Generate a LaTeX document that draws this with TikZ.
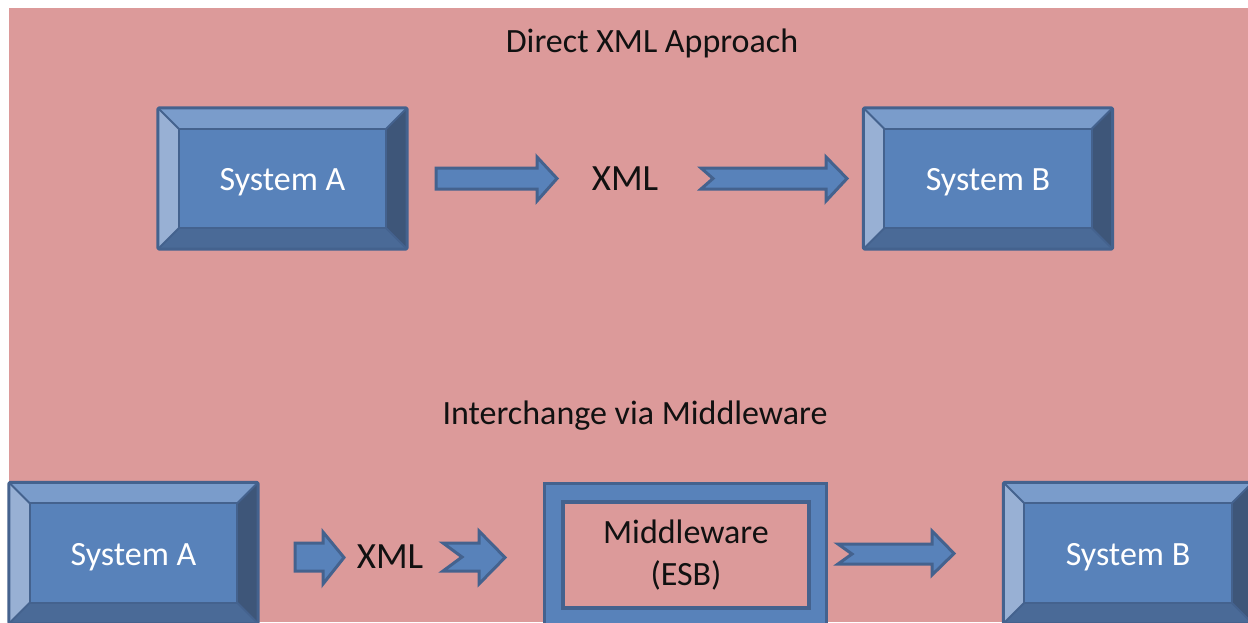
\documentclass[tikz,border=0pt]{standalone}
\usepackage{fontspec}
\setmainfont{Carlito}
\usetikzlibrary{calc}
\definecolor{bgpink}{HTML}{DC9A9A}
\definecolor{boxblue}{HTML}{5882BA}
\definecolor{bordblue}{HTML}{44628E}
\definecolor{toplt}{HTML}{7A9CCB}
\definecolor{leftlt}{HTML}{98B0D4}
\definecolor{rightdk}{HTML}{3E5679}
\definecolor{botdk}{HTML}{4A6A97}
\definecolor{txtblack}{HTML}{111111}
\tikzset{
  sysbox/.style={rectangle, fill=boxblue, minimum width=249pt, minimum height=141pt, inner sep=0pt, text=white, font=\fontsize{34}{40}\selectfont},
  bev/.style={draw=bordblue, line width=2pt, line join=round},
  blockarrow/.style={fill=boxblue, draw=bordblue, line width=3pt, line join=miter},
  titletext/.style={text=txtblack, font=\fontsize{34}{40}\selectfont},
  xmllabel/.style={text=txtblack, font=\fontsize{37}{44}\selectfont},
}
\newcommand{\bevbox}[4]{%
  \node[sysbox] (#1) at (#2,#3) {\raisebox{-12pt}[0pt][0pt]{#4}};
  \fill[toplt] (#1.north west) -- (#1.north east) -- ($(#1.north east)+(-21,21)$) -- ($(#1.north west)+(21,21)$) -- cycle;
  \fill[leftlt] (#1.north west) -- ($(#1.north west)+(21,21)$) -- ($(#1.south west)+(21,-21)$) -- (#1.south west) -- cycle;
  \fill[rightdk] (#1.north east) -- (#1.south east) -- ($(#1.south east)+(-21,-21)$) -- ($(#1.north east)+(-21,21)$) -- cycle;
  \fill[botdk] (#1.south west) -- (#1.south east) -- ($(#1.south east)+(-21,-21)$) -- ($(#1.south west)+(21,-21)$) -- cycle;
  \draw[bev] ($(#1.north west)+(21,21)$) rectangle ($(#1.south east)+(-21,-21)$);
  \draw[bev] (#1.north west) -- ($(#1.north west)+(21,21)$);
  \draw[bev] (#1.north east) -- ($(#1.north east)+(-21,21)$);
  \draw[bev] (#1.south west) -- ($(#1.south west)+(21,-21)$);
  \draw[bev] (#1.south east) -- ($(#1.south east)+(-21,-21)$);
  \draw[bev, line width=3pt, rounded corners=1.5pt] (#1.north west) rectangle (#1.south east);
}
\begin{document}
\begin{tikzpicture}[x=1pt,y=-1pt]
  \clip (0,0) rectangle (1248,622);
  \fill[white] (0,0) rectangle (1248,622);
  \fill[bgpink] (9,8) rectangle (1248,622);

  % titles
  \node[titletext] (t1) at (652,43) {Direct XML Approach};
  \node[titletext] (t2) at (635,416) {Interchange via Middleware};

  % top row
  \bevbox{sa1}{282.5}{178.5}{System A}
  \bevbox{sb1}{988}{178.5}{System B}
  \node[xmllabel] (x1) at (625,179) {XML};
  \draw[blockarrow] (436,168) -- (537,168) -- (537,157) -- (557,178.5) -- (537,201) -- (537,189) -- (436,189) -- cycle;
  \draw[blockarrow] (701,168) -- (826,168) -- (826,157) -- (847,178.5) -- (826,201) -- (826,189) -- (701,189) -- (713,178.5) -- cycle;

  % bottom row
  \bevbox{sa2}{133.5}{553}{System A}
  \bevbox{sb2}{1128}{553}{System B}
  \node[xmllabel] (x2) at (390,557) {XML};
  \draw[blockarrow] (295,543) -- (323,543) -- (323,532) -- (344,557.5) -- (323,584) -- (323,571) -- (295,571) -- cycle;
  \draw[blockarrow] (443,543) -- (479,543) -- (479,531) -- (505,557.5) -- (479,584) -- (479,571) -- (443,571) -- (462,557) -- cycle;
  \draw[blockarrow] (838,544) -- (932,544) -- (932,531) -- (954,553.5) -- (932,575) -- (932,564) -- (838,564) -- (852,554) -- cycle;

  % middleware
  \node[rectangle, fill=boxblue, draw=bordblue, line width=3pt, minimum width=282pt, minimum height=150pt, inner sep=0pt, anchor=north west] (mw) at (543,482) {};
  \node[rectangle, fill=bgpink, draw=bordblue, line width=4pt, minimum width=246pt, minimum height=106pt, inner sep=0pt, anchor=north west, text=txtblack, align=center, font=\fontsize{34}{44}\selectfont] (mwin) at (561,500) {\raisebox{-2pt}{Middleware}\\(ESB)};
\end{tikzpicture}
\end{document}
